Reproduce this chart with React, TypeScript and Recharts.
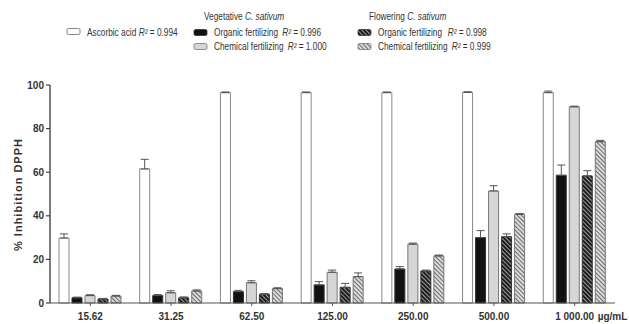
import React from "react";
import { BarChart, Bar, XAxis, YAxis, ErrorBar } from "recharts";

// concentrations (µg/mL)
const categories = ["15.62", "31.25", "62.50", "125.00", "250.00", "500.00", "1 000.00"];

// % inhibition DPPH
const ascorbic = [29.8, 61.5, 96.5, 96.5, 96.5, 96.6, 96.5];
const ascorbicErr = [1.9, 4.4, 0.3, 0.3, 0.3, 0.3, 0.7];
const vegOrganic = [2.4, 3.4, 5.2, 8.3, 15.6, 30, 58.6];
const vegOrganicErr = [0.3, 0.5, 0.6, 1.5, 1.1, 3.2, 4.7];
const vegChemical = [3.4, 4.7, 9.3, 14.1, 27, 51.4, 90];
const vegChemicalErr = [0.4, 0.9, 0.9, 1, 0.5, 2.4, 0.3];
const flOrganic = [1.8, 2.4, 4, 7.2, 14.7, 30.4, 58.3];
const flOrganicErr = [0.3, 0.4, 0.3, 1.8, 0.4, 1.3, 2.4];
const flChemical = [3.2, 5.5, 6.6, 12.1, 21.6, 40.7, 74];
const flChemicalErr = [0.3, 0.5, 0.4, 1.7, 0.4, 0.3, 0.6];

const yTicks = [0, 20, 40, 60, 80, 100];

const data = categories.map((dose, i) => ({
  dose,
  ascorbic: ascorbic[i],
  ascorbicErr: [0, ascorbicErr[i]],
  vegOrganic: vegOrganic[i],
  vegOrganicErr: [0, vegOrganicErr[i]],
  vegChemical: vegChemical[i],
  vegChemicalErr: [0, vegChemicalErr[i]],
  flOrganic: flOrganic[i],
  flOrganicErr: [0, flOrganicErr[i]],
  flChemical: flChemical[i],
  flChemicalErr: [0, flChemicalErr[i]],
}));

const FONT = "'Liberation Sans', Arial, sans-serif";
const INK = "#333";
const SQUEEZE = 0.83; // legend font is a narrow face in the original

const DoseTick = ({ x, y, payload }: any) => {
  const last = payload.value === categories[categories.length - 1];
  return (
    <g fontFamily={FONT} fontSize={10} fontWeight="bold" fill={INK}>
      <text x={x} y={y + 12} textAnchor="middle">
        {payload.value}
      </text>
      {last && (
        <text x={x + 23} y={y + 12}>
          µg/mL
        </text>
      )}
    </g>
  );
};

// one legend line, drawn condensed
const LegendLine = ({ x, y, label, r, gap = 5 }: any) => (
  <g transform={`translate(${x},${y}) scale(${SQUEEZE},1)`}>
    <text x={0} y={0} fontFamily={FONT} fontSize={10} fill={INK}>
      {label}
      {r && (
        <>
          <tspan dx={gap} fontStyle="italic">R²</tspan> = {r}
        </>
      )}
    </text>
  </g>
);

const Title = ({ x, y, word }: any) => (
  <g transform={`translate(${x},${y}) scale(${SQUEEZE},1)`}>
    <text x={0} y={0} fontFamily={FONT} fontSize={10} fill={INK}>
      {word} <tspan fontStyle="italic">C. sativum</tspan>
    </text>
  </g>
);

const Swatch = ({ x, y, fill, stroke }: any) => (
  <rect x={x} y={y} width={13} height={6} rx={1.5} fill={fill} stroke={stroke} strokeWidth={0.8} />
);

export default function App() {
  return (
    <div style={{ position: "absolute", left: 0, top: 0, width: 629, height: 324, background: "#fff" }}>
      <BarChart
        width={629}
        height={324}
        data={data}
        margin={{ top: 85, right: 14, bottom: 0, left: 0 }}
        barSize={10}
        barGap={3}
      >
        <XAxis
          dataKey="dose"
          height={21}
          tick={<DoseTick />}
          tickSize={3}
          axisLine={{ stroke: "#555", strokeWidth: 1.2 }}
          tickLine={{ stroke: "#555" }}
          interval={0}
        />
        <YAxis
          width={50}
          domain={[0, 100]}
          ticks={yTicks}
          tickSize={4}
          axisLine={{ stroke: "#444", strokeWidth: 1.4 }}
          tickLine={{ stroke: "#444", strokeWidth: 1.2 }}
          tick={{ fontSize: 10, fontWeight: "bold", fill: INK, fontFamily: FONT }}
        />
        <Bar dataKey="ascorbic" fill="#fff" stroke="#888" strokeWidth={1} isAnimationActive={false}>
          <ErrorBar dataKey="ascorbicErr" direction="y" width={4} stroke="#555" strokeWidth={1} />
        </Bar>
        <Bar dataKey="vegOrganic" fill="#111" stroke="#333" strokeWidth={1} isAnimationActive={false}>
          <ErrorBar dataKey="vegOrganicErr" direction="y" width={4} stroke="#555" strokeWidth={1} />
        </Bar>
        <Bar dataKey="vegChemical" fill="#d6d6d6" stroke="#777" strokeWidth={1} isAnimationActive={false}>
          <ErrorBar dataKey="vegChemicalErr" direction="y" width={4} stroke="#555" strokeWidth={1} />
        </Bar>
        <Bar dataKey="flOrganic" fill="url(#hatchDark)" stroke="#333" strokeWidth={1} isAnimationActive={false}>
          <ErrorBar dataKey="flOrganicErr" direction="y" width={4} stroke="#555" strokeWidth={1} />
        </Bar>
        <Bar dataKey="flChemical" fill="url(#hatchLight)" stroke="#777" strokeWidth={1} isAnimationActive={false}>
          <ErrorBar dataKey="flChemicalErr" direction="y" width={4} stroke="#555" strokeWidth={1} />
        </Bar>
      </BarChart>

      <svg
        width={629}
        height={324}
        style={{ position: "absolute", left: 0, top: 0, pointerEvents: "none" }}
      >
        <defs>
          <pattern id="hatchDark" width="3" height="3" patternUnits="userSpaceOnUse" patternTransform="rotate(-45)">
            <rect width="3" height="3" fill="#1e1e1e" />
            <rect width="1" height="3" fill="#9a9a9a" />
          </pattern>
          <pattern id="hatchLight" width="3" height="3" patternUnits="userSpaceOnUse" patternTransform="rotate(-45)">
            <rect width="3" height="3" fill="#dadada" />
            <rect width="1" height="3" fill="#6e6e6e" />
          </pattern>
        </defs>

        <text
          transform="translate(21.5,194.5) rotate(-90)"
          textAnchor="middle"
          fontFamily={FONT}
          fontSize={11}
          fontWeight="bold"
          fill={INK}
          letterSpacing={1}
        >
          % Inhibition DPPH
        </text>

        {/* ascorbic acid */}
        <Swatch x={67} y={28.5} fill="#fff" stroke="#666" />
        <LegendLine x={87} y={35.5} label="Ascorbic acid" r="0.994" gap={3} />

        {/* vegetative */}
        <Title x={204} y={19.5} word="Vegetative" />
        <Swatch x={194} y={29.5} fill="#111" stroke="#333" />
        <LegendLine x={214} y={36} label="Organic fertilizing" r="0.996" />
        <Swatch x={194} y={43.5} fill="#d6d6d6" stroke="#777" />
        <LegendLine x={214} y={50} label="Chemical fertilizing" r="1.000" />

        {/* flowering */}
        <Title x={369} y={19.5} word="Flowering" />
        <Swatch x={358} y={29.5} fill="url(#hatchDark)" stroke="#333" />
        <LegendLine x={378} y={36} label="Organic fertilizing" r="0.998" gap={7} />
        <Swatch x={358} y={43.5} fill="url(#hatchLight)" stroke="#777" />
        <LegendLine x={378} y={50} label="Chemical fertilizing" r="0.999" />
      </svg>
    </div>
  );
}
